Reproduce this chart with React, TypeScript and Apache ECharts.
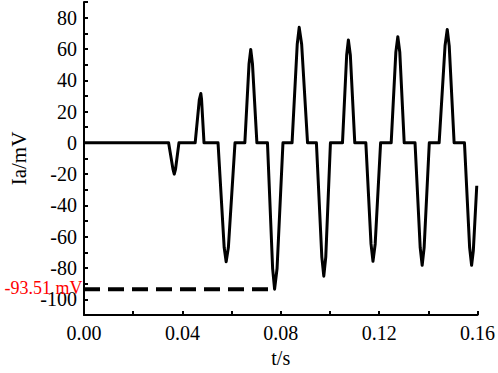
import React, { useEffect, useRef } from "react";
import * as echarts from "echarts";

const timeS: number[] = [
  0,
  0.0344, 0.0362, 0.0367, 0.0372, 0.0386,
  0.0452, 0.0469, 0.0475, 0.0478, 0.0488,
  0.0545, 0.057, 0.0578, 0.0587, 0.0614,
  0.0654, 0.0671, 0.0678, 0.0685, 0.0703,
  0.0746, 0.0767, 0.0775, 0.0785, 0.0809,
  0.0846, 0.0867, 0.0875, 0.0885, 0.0909,
  0.0945, 0.0967, 0.0975, 0.0983, 0.1002,
  0.1051, 0.1068, 0.1075, 0.1083, 0.1101,
  0.1146, 0.1167, 0.1175, 0.1184, 0.1206,
  0.1249, 0.1268, 0.1276, 0.1284, 0.1302,
  0.1346, 0.1367, 0.1375, 0.1383, 0.1404,
  0.1444, 0.1468, 0.1477, 0.1485, 0.1505,
  0.1547, 0.1568, 0.1576, 0.1583, 0.1597,
];

const currentMV: number[] = [
  0,
  0, -17, -20, -17, 0,
  0, 27.7, 31.5, 27.7, 0,
  0, -66.9, -76, -66.9, 0,
  0, 50.5, 59.7, 50.5, 0,
  0, -80.3, -93.51, -80.3, 0,
  0, 63, 73.8, 63, 0,
  0, -73, -85.2, -73, 0,
  0, 56, 65.7, 56, 0,
  0, -64.6, -75.7, -64.6, 0,
  0, 58, 67.8, 58, 0,
  0, -67, -78.2, -67, 0,
  0, 62, 72.5, 62, 0,
  0, -67, -78.2, -69, -27.4,
];

const peakTimes: number[] = [0, 0.0775];
const peakValue = -93.51;
const peakLabel = "-93.51 mV";

const xMin = 0;
const xMax = 0.16;
const yMin = -110;
const yMax = 90;

const FONT = "Liberation Serif";

export default function App() {
  const ref = useRef<HTMLDivElement>(null);
  useEffect(() => {
    if (!ref.current) return;
    const chart = echarts.init(ref.current, undefined, { renderer: "svg" });
    const lineData = timeS.map((t, i) => [t, currentMV[i]]);
    const dashData = peakTimes.map((t) => [t, peakValue]);
    chart.setOption({
      animation: false,
      backgroundColor: "#ffffff",
      grid: { left: 77, right: 18, top: 2, bottom: 56, containLabel: false },
      xAxis: {
        type: "value",
        min: xMin,
        max: xMax,
        interval: 0.02,
        name: "t/s",
        nameLocation: "middle",
        nameGap: 33,
        nameTextStyle: { fontFamily: FONT, fontSize: 20, color: "#000" },
        axisLine: { show: true, onZero: false, lineStyle: { color: "#000", width: 2 } },
        axisTick: { show: true, inside: true, length: 4, lineStyle: { color: "#000", width: 2 } },
        axisLabel: {
          fontFamily: FONT,
          fontSize: 20,
          color: "#000",
          margin: 8,
          formatter: (v: number) => (Math.round(v / 0.02) % 2 === 0 ? v.toFixed(2) : ""),
        },
        splitLine: { show: false },
      },
      yAxis: {
        type: "value",
        min: yMin,
        max: yMax,
        interval: 10,
        name: "Ia/mV",
        nameLocation: "middle",
        nameGap: 55,
        nameTextStyle: { fontFamily: FONT, fontSize: 21, color: "#000" },
        axisLine: { show: true, onZero: false, lineStyle: { color: "#000", width: 2 } },
        axisTick: { show: true, inside: true, length: 4, lineStyle: { color: "#000", width: 2 } },
        axisLabel: {
          fontFamily: FONT,
          fontSize: 20,
          color: "#000",
          margin: 7,
          lineHeight: 14,
          formatter: (v: number) => (Math.round(v) % 20 === 0 ? String(Math.round(v)) : ""),
        },
        splitLine: { show: false },
      },
      series: [
        {
          type: "line",
          data: lineData,
          showSymbol: false,
          symbol: "none",
          lineStyle: { color: "#000", width: 3, join: "round" },
          z: 3,
        },
        {
          type: "line",
          data: dashData,
          showSymbol: false,
          symbol: "none",
          lineStyle: { color: "#000", width: 4, type: [16, 8] },
          markPoint: {
            symbol: "circle",
            symbolSize: 1,
            itemStyle: { color: "rgba(0,0,0,0)" },
            label: {
              show: true,
              position: "left",
              distance: 1,
              offset: [0, -1],
              lineHeight: 12,
              formatter: peakLabel,
              color: "#ff0000",
              fontFamily: FONT,
              fontSize: 18,
            },
            data: [{ coord: dashData[0] }],
          },
          z: 2,
        },
      ],
    });
    return () => chart.dispose();
  }, []);
  return (
    <div
      ref={ref}
      style={{ position: "fixed", left: 0, top: 0, width: 498, height: 373, background: "#fff" }}
    />
  );
}
